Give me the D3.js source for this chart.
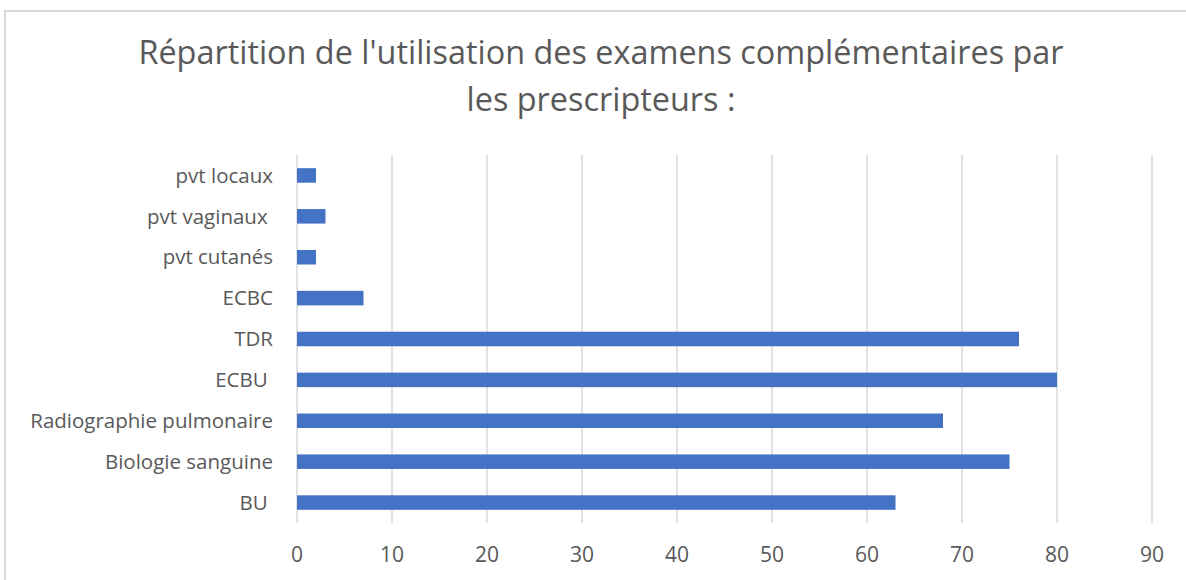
<!DOCTYPE html>
<html>
<head>
<meta charset="utf-8">
<script src="https://cdn.jsdelivr.net/npm/d3@7"></script>
<style>
  body { margin: 0; background: #fff; }
  text { font-family: "Open Sans", sans-serif; fill: #595959; white-space: pre; }
</style>
</head>
<body>
<div id="container"></div>
<script>
// data, bottom to top as in the chart
const categories = ["BU ", "Biologie sanguine", "Radiographie pulmonaire", "ECBU ", "TDR", "ECBC", "pvt cutanés", "pvt vaginaux ", "pvt locaux"];
const values = [63, 75, 68, 80, 76, 7, 2, 3, 2];
const ticks = [0, 10, 20, 30, 40, 50, 60, 70, 80, 90];
const titleLines = ["Répartition de l'utilisation des examens complémentaires par", "les prescripteurs :"];

const width = 1186, height = 580;

const svg = d3.select('#container').append('svg')
    .attr('width', width)
    .attr('height', height);

// frame (top and left border only visible in the crop)
svg.append('line').attr('x1', 4).attr('x2', width).attr('y1', 11).attr('y2', 11)
    .attr('stroke', '#d9d9d9').attr('stroke-width', 2);
svg.append('line').attr('x1', 5).attr('x2', 5).attr('y1', 10).attr('y2', height)
    .attr('stroke', '#d9d9d9').attr('stroke-width', 2);

// title
svg.selectAll('.title').data(titleLines).enter().append('text')
    .attr('class', 'title')
    .attr('x', 601)
    .attr('y', (d, i) => 64 + i * 47)
    .attr('text-anchor', 'middle')
    .style('font-size', '32.4px')
    .text(d => d);

const x = d3.scaleLinear().domain([0, 90]).range([297, 1152]);
const y = d3.scaleBand()
    .domain(categories.slice().reverse())
    .range([155, 523])
    .paddingInner(0.645)
    .paddingOuter(0.3225);

// gridlines
svg.append('g').selectAll('line').data(ticks).enter().append('line')
    .attr('x1', d => x(d)).attr('x2', d => x(d))
    .attr('y1', 155).attr('y2', 523)
    .attr('stroke', '#d9d9d9').attr('stroke-width', 1.5);

// bars
svg.append('g').selectAll('rect').data(categories).enter().append('rect')
    .attr('x', x(0))
    .attr('y', d => y(d))
    .attr('width', (d, i) => x(values[i]) - x(0))
    .attr('height', y.bandwidth())
    .attr('fill', '#4472c4');

// x tick labels
svg.append('g').selectAll('text').data(ticks).enter().append('text')
    .attr('x', d => x(d))
    .attr('y', 562)
    .attr('text-anchor', 'middle')
    .style('font-size', '21px')
    .text(d => d);

// category labels
svg.append('g').selectAll('text').data(categories).enter().append('text')
    .attr('x', 273)
    .attr('y', d => y(d) + y.bandwidth() / 2)
    .attr('dy', '0.35em')
    .attr('text-anchor', 'end')
    .style('font-size', '20.5px')
    .text(d => d);
</script>
</body>
</html>
